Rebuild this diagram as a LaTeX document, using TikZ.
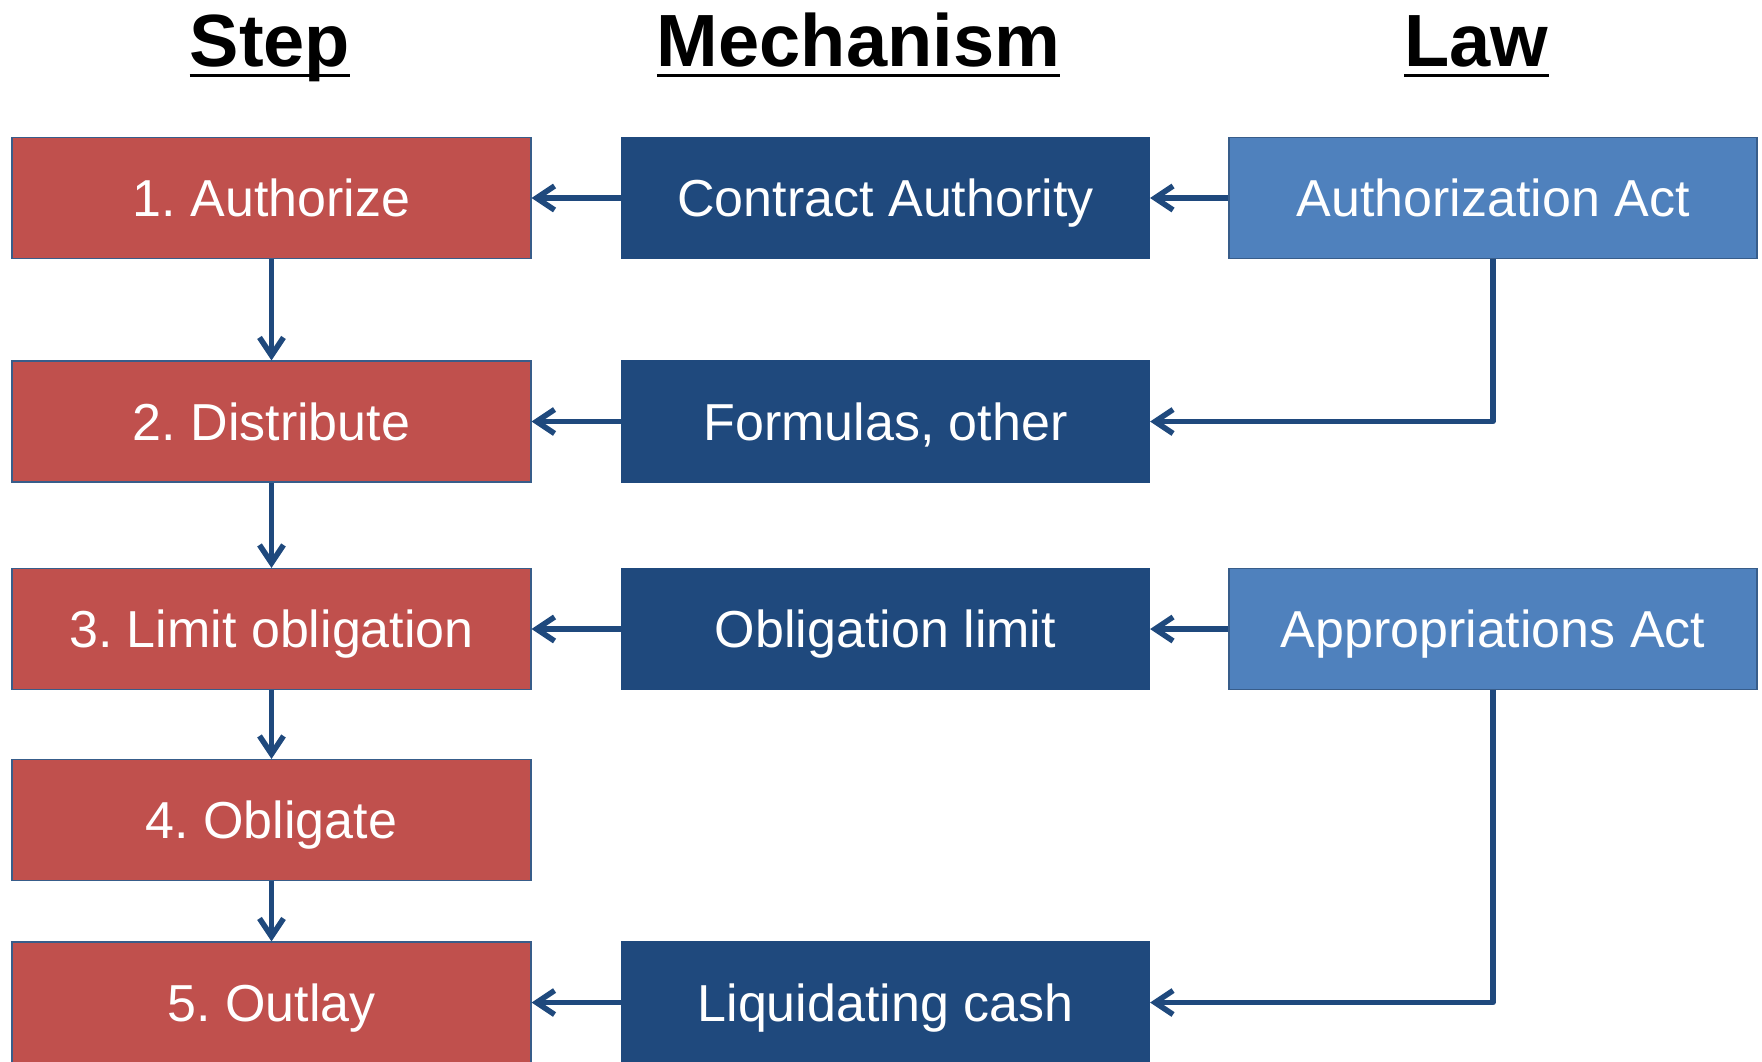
\documentclass[tikz,border=0pt]{standalone}
\usepackage{fontspec}
\setmainfont{Liberation Sans}
\usetikzlibrary{arrows.meta}
\definecolor{stepred}{HTML}{C0504D}
\definecolor{mechblue}{HTML}{1F497D}
\definecolor{lawblue}{HTML}{4F81BD}
\definecolor{edgeblue}{HTML}{385D8A}
\definecolor{arrowblue}{HTML}{1F497D}
\frenchspacing
\begin{document}
\begin{tikzpicture}[x=1pt,y=-1pt,
  box/.style={draw=edgeblue, line width=1.2pt, text=white, minimum height=121pt, inner sep=0pt,
    font=\fontsize{52}{60}\selectfont, text height=37pt, text depth=0pt},
  stepbox/.style={box, fill=stepred, minimum width=519pt},
  mechbox/.style={box, fill=mechblue, draw=mechblue, minimum width=528pt},
  lawbox/.style={box, fill=lawblue, minimum width=528pt},
  conn/.style={draw=arrowblue, line width=5.5pt, line join=round,
    -{Straight Barb[length=18pt,width=24pt]}},
  header/.style={font=\bfseries\fontsize{74}{80}\selectfont, inner sep=0pt, anchor=base},
  uline/.style={line width=3.5pt}
]
\useasboundingbox (0,0) rectangle (1762,1061);

% headers
\node[header] (hstep) at (270,66) {Step};
\node[header] (hmech) at (858.5,66) {Mechanism};
\node[header] (hlaw) at (1476.5,66) {Law};
\foreach \h in {hstep,hmech,hlaw}
  \draw[uline] ([yshift=-9.5pt]\h.base west) -- ([yshift=-9.5pt]\h.base east);

% step column
\node[stepbox] (s1) at (271.5,198) {1. Authorize};
\node[stepbox] (s2) at (271.5,421.5) {2. Distribute};
\node[stepbox] (s3) at (271.5,629) {3. Limit obligation};
\node[stepbox] (s4) at (271.5,820) {4. Obligate};
\node[stepbox] (s5) at (271.5,1002.5) {5. Outlay};

% mechanism column
\node[mechbox] (m1) at (885.5,198) {Contract Authority};
\node[mechbox] (m2) at (885.5,421.5) {Formulas, other};
\node[mechbox] (m3) at (885.5,629) {Obligation limit};
\node[mechbox] (m5) at (885.5,1002.5) {Liquidating cash};

% law column
\node[lawbox] (l1) at (1493,198) {Authorization Act};
\node[lawbox] (l3) at (1493,629) {Appropriations Act};

% connectors
\draw[conn] (s1.south) -- (s2.north);
\draw[conn] (s2.south) -- (s3.north);
\draw[conn] (s3.south) -- (s4.north);
\draw[conn] (s4.south) -- (s5.north);

\draw[conn] (m1.west) -- (s1.east);
\draw[conn] (m2.west) -- (s2.east);
\draw[conn] (m3.west) -- (s3.east);
\draw[conn] (m5.west) -- (s5.east);

\draw[conn] (l1.west) -- (m1.east);
\draw[conn] (l3.west) -- (m3.east);

\draw[conn] (l1.south) |- (m2.east);
\draw[conn] (l3.south) |- (m5.east);
\end{tikzpicture}
\end{document}
